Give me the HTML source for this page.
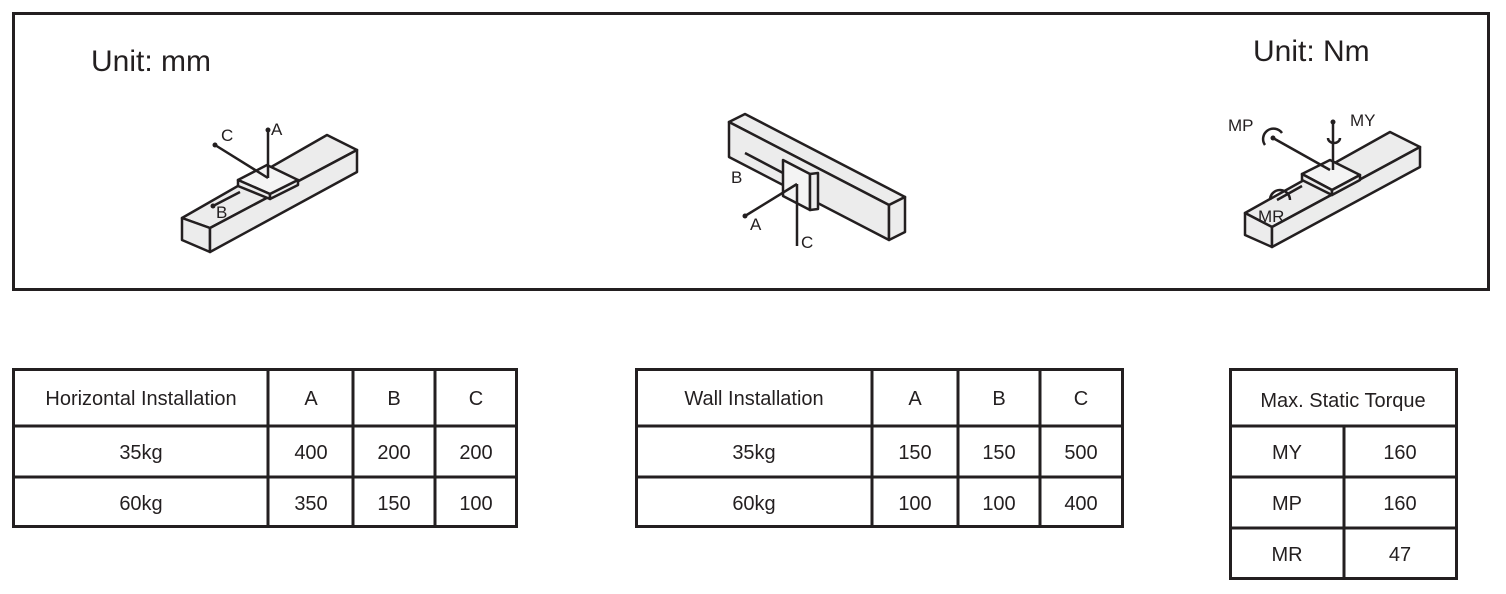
<!DOCTYPE html>
<html><head><meta charset="utf-8"><style>
html,body{margin:0;padding:0;background:#fff;}
svg{display:block;}
text{font-family:"Liberation Sans",sans-serif;fill:#231f20;}
</style></head><body>
<svg width="1506" height="594" viewBox="0 0 1506 594" xmlns="http://www.w3.org/2000/svg">
<rect x="13.5" y="13.5" width="1475" height="276" fill="none" stroke="#231f20" stroke-width="3"/>
<text x="91" y="71" font-size="30">Unit: mm</text>
<text x="1253" y="61" font-size="30">Unit: Nm</text>

<g stroke="#231f20" stroke-width="2.5" stroke-linejoin="round" fill="#ececec">
<!-- horizontal -->
<polygon points="182,218 327,135 357,150 210,228"/>
<polygon points="182,218 210,228 210,252 182,240"/>
<polygon points="210,228 357,150 357,172 210,252"/>
<polygon points="238,180 267,165 298,180 270,194" fill="#f4f4f4"/>
<polygon points="238,180 270,194 270,199 238,186"/>
<polygon points="270,194 298,180 298,185 270,199"/>
<line x1="215" y1="145" x2="268" y2="178" fill="none"/>
<line x1="268" y1="130" x2="268" y2="178" fill="none"/>
<line x1="213" y1="206" x2="240" y2="192" fill="none"/>
<!-- wall -->
<polygon points="729,122 745,114 905,197 889,205"/>
<polygon points="729,122 889,205 889,240 729,157"/>
<polygon points="889,205 905,197 905,232 889,240"/>
<polygon points="783,160 810,174 810,210 783,196" fill="#f4f4f4"/>
<polygon points="810,174 818,173 818,209 810,210"/>
<line x1="745" y1="153" x2="783" y2="173" fill="none"/>
<line x1="745" y1="216" x2="797" y2="184" fill="none"/>
<line x1="797" y1="184" x2="797" y2="246" fill="none"/>
<!-- torque -->
<polygon points="1245,213 1390,132 1420,147 1272,227"/>
<polygon points="1245,213 1272,227 1272,247 1245,235"/>
<polygon points="1272,227 1420,147 1420,167 1272,247"/>
<polygon points="1302,174 1330,160 1360,175 1332,190" fill="#f4f4f4"/>
<polygon points="1302,174 1332,190 1332,195 1302,180"/>
<polygon points="1332,190 1360,175 1360,180 1332,195"/>
<line x1="1273" y1="138" x2="1330" y2="170" fill="none"/>
<line x1="1333" y1="122" x2="1333" y2="170" fill="none"/>
<line x1="1277" y1="200" x2="1302" y2="186" fill="none"/>
<path d="M1265,145 A8,8 0 1 1 1282,133" fill="none"/>
<path d="M1328,138 A6,5 0 0 0 1340,138" fill="none"/>
<path d="M1270,200 A10,10 0 1 1 1290,200" fill="none"/>
</g>
<g font-size="17">
<text x="221" y="141">C</text><text x="271" y="135">A</text><text x="216" y="218">B</text>
<text x="731" y="183">B</text><text x="750" y="230">A</text><text x="801" y="248">C</text>
<text x="1228" y="131">MP</text><text x="1350" y="126">MY</text><text x="1258" y="222">MR</text>
</g>
<g fill="#231f20"><circle cx="215" cy="145" r="2.5"/><circle cx="268" cy="130" r="2.5"/><circle cx="213" cy="206" r="2.5"/><circle cx="745" cy="216" r="2.5"/><circle cx="1273" cy="138" r="2.5"/><circle cx="1333" cy="122" r="2.5"/></g>

<g fill="none" stroke="#231f20" stroke-width="3">
<rect x="13.5" y="369.5" width="503" height="157"/>
<line x1="13" y1="426" x2="517" y2="426"/><line x1="13" y1="477" x2="517" y2="477"/>
<line x1="268" y1="369" x2="268" y2="527"/><line x1="353" y1="369" x2="353" y2="527"/><line x1="435" y1="369" x2="435" y2="527"/>
<rect x="636.5" y="369.5" width="486" height="157"/>
<line x1="636" y1="426" x2="1122" y2="426"/><line x1="636" y1="477" x2="1122" y2="477"/>
<line x1="872" y1="369" x2="872" y2="527"/><line x1="958" y1="369" x2="958" y2="527"/><line x1="1040" y1="369" x2="1040" y2="527"/>
<rect x="1230.5" y="369.5" width="226" height="209"/>
<line x1="1230" y1="426" x2="1457" y2="426"/><line x1="1230" y1="477" x2="1457" y2="477"/><line x1="1230" y1="528" x2="1457" y2="528"/>
<line x1="1344" y1="426" x2="1344" y2="579"/>
</g>
<g font-size="20" text-anchor="middle">
<text x="141" y="405">Horizontal Installation</text><text x="311" y="405">A</text><text x="394" y="405">B</text><text x="476" y="405">C</text>
<text x="141" y="459">35kg</text><text x="311" y="459">400</text><text x="394" y="459">200</text><text x="476" y="459">200</text>
<text x="141" y="510">60kg</text><text x="311" y="510">350</text><text x="394" y="510">150</text><text x="476" y="510">100</text>
<text x="754" y="405">Wall Installation</text><text x="915" y="405">A</text><text x="999" y="405">B</text><text x="1081" y="405">C</text>
<text x="754" y="459">35kg</text><text x="915" y="459">150</text><text x="999" y="459">150</text><text x="1081" y="459">500</text>
<text x="754" y="510">60kg</text><text x="915" y="510">100</text><text x="999" y="510">100</text><text x="1081" y="510">400</text>
<text x="1343" y="407">Max. Static Torque</text>
<text x="1287" y="459">MY</text><text x="1400" y="459">160</text>
<text x="1287" y="510">MP</text><text x="1400" y="510">160</text>
<text x="1287" y="561">MR</text><text x="1400" y="561">47</text>
</g>
</svg>
</body></html>
